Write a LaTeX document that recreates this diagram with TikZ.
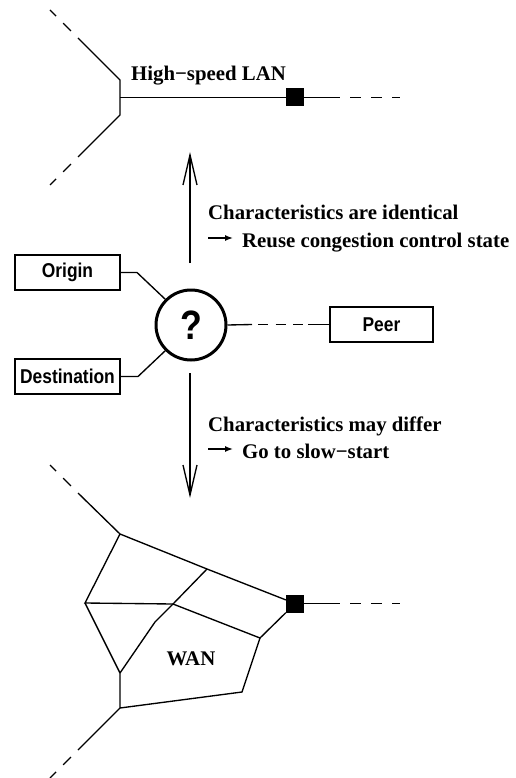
\documentclass[tikz,border=0pt]{standalone}
\usepackage{fontspec}
\setmainfont{Liberation Serif}
\newfontfamily\boxfont{Liberation Sans}[FakeStretch=0.87]
\usetikzlibrary{arrows.meta}
\tikzset{
  ln/.style={line width=1.35pt},
  dashln/.style={line width=1.35pt, dash pattern=on 11pt off 10pt, dash phase=11pt},
  lbl/.style={inner sep=0pt, anchor=base west, font=\fontsize{20.8}{24}\selectfont\bfseries},
  boxn/.style={draw, line width=1.35pt, minimum width=105pt, minimum height=35pt, inner sep=0pt,
    font=\boxfont\fontsize{20}{24}\selectfont\bfseries},
  router/.style={fill=black, minimum size=18pt, inner sep=0pt},
  bigarrow/.style={line width=1.35pt, -{Straight Barb[length=30pt,width=14pt]}},
  smallarrow/.style={line width=1.35pt, -{Latex[length=8pt,width=6pt]}}
}
\begin{document}
\begin{tikzpicture}[x=1pt,y=-1pt]
\useasboundingbox (0,0) rectangle (515,778);

% ---------- High-speed LAN ----------
\coordinate (lanT) at (120,80);
\coordinate (lanB) at (120,115);
\coordinate (lanM) at (120,97.5);
\coordinate (lanTs) at (78,38);
\coordinate (lanTo) at (50,10);
\coordinate (lanBs) at (78,157);
\coordinate (lanBo) at (50,185);
\node[router] (lsq) at (295,97.5) {};
\coordinate (lanRs) at (340,97.5);
\coordinate (lanRo) at (400,97.5);
\draw[ln] (lanTs) -- (lanT) -- (lanB) -- (lanBs);
\draw[dashln] (lanTs) -- (lanTo);
\draw[dashln] (lanBs) -- (lanBo);
\draw[ln] (lanM) -- (lsq.west);
\draw[ln] (lsq.east) -- (lanRs);
\draw[dashln] (lanRs) -- (lanRo);
\node[lbl] (lan) at (131,81) {High−speed LAN};

% ---------- arrows and texts ----------
\coordinate (upS) at (190,263);
\coordinate (upE) at (190,152);
\coordinate (dnS) at (190,373);
\coordinate (dnE) at (190,498);
\draw[bigarrow] (upS) -- (upE);
\draw[bigarrow] (dnS) -- (dnE);

\node[lbl] (t1a) at (208,219) {Characteristics are identical};
\node[lbl] (t1b) at (242,247) {Reuse congestion control state};
\coordinate (a1s) at (208,238);
\coordinate (a1e) at (233,238);
\draw[smallarrow] (a1s) -- (a1e);

\node[lbl] (t2a) at (208,431) {Characteristics may differ};
\node[lbl] (t2b) at (242,458) {Go to slow−start};
\coordinate (a2s) at (208,449);
\coordinate (a2e) at (233,449);
\draw[smallarrow] (a2s) -- (a2e);

% ---------- middle ----------
\node[draw, circle, line width=3pt, minimum size=70pt, inner sep=0pt,
  font=\boxfont\fontsize{41}{44}\selectfont\bfseries] (q) at (191,325) {?};
\node[boxn] (orig) at (67.5,272.5) {Origin};
\node[boxn] (dest) at (67.5,376.5) {Destination};
\node[boxn, minimum width=103pt] (peer) at (381.5,324.5) {Peer};

\coordinate (ok) at (137,272.5);
\coordinate (dk) at (138,376.5);
\draw[ln] (orig.east) -- (ok) -- (q.135);
\draw[ln] (dest.east) -- (dk) -- (q.225);

\coordinate (pa) at (252,324.5);
\coordinate (pb) at (258,324.5);
\coordinate (pc) at (303,324.5);
\coordinate (pd) at (308,324.5);
\draw[ln] (q.east) -- (pa);
\draw[ln, dash pattern=on 10pt off 7.5pt] (pb) -- (pc);
\draw[ln] (pd) -- (peer.west);

% ---------- WAN ----------
\coordinate (A) at (120,534);
\coordinate (B) at (207,569);
\coordinate (C) at (85,603);
\coordinate (D) at (173,604);
\coordinate (E) at (260,638);
\coordinate (K) at (155,622);
\coordinate (F) at (120,673);
\coordinate (G) at (120,708);
\coordinate (H) at (242,692);
\coordinate (wTs) at (78,493);
\coordinate (wTo) at (50,465);
\coordinate (wBs) at (78,750);
\coordinate (wBo) at (50,778);
\node[router] (wsq) at (295,603.5) {};
\coordinate (wRs) at (340,603.5);
\coordinate (wRo) at (400,603.5);

\draw[ln] (wTs) -- (A) -- (B) -- (wsq);
\draw[dashln] (wTs) -- (wTo);
\draw[ln] (A) -- (C) -- (D) -- (E) -- (wsq.south west);
\draw[ln] (B) -- (D) -- (K) -- (F) -- (G) -- (H) -- (E);
\draw[ln] (C) -- (F);
\draw[ln] (G) -- (wBs);
\draw[dashln] (wBs) -- (wBo);
\draw[ln] (wsq.east) -- (wRs);
\draw[dashln] (wRs) -- (wRo);
\node[lbl, anchor=base] (wan) at (191,665) {WAN};
\end{tikzpicture}
\end{document}
